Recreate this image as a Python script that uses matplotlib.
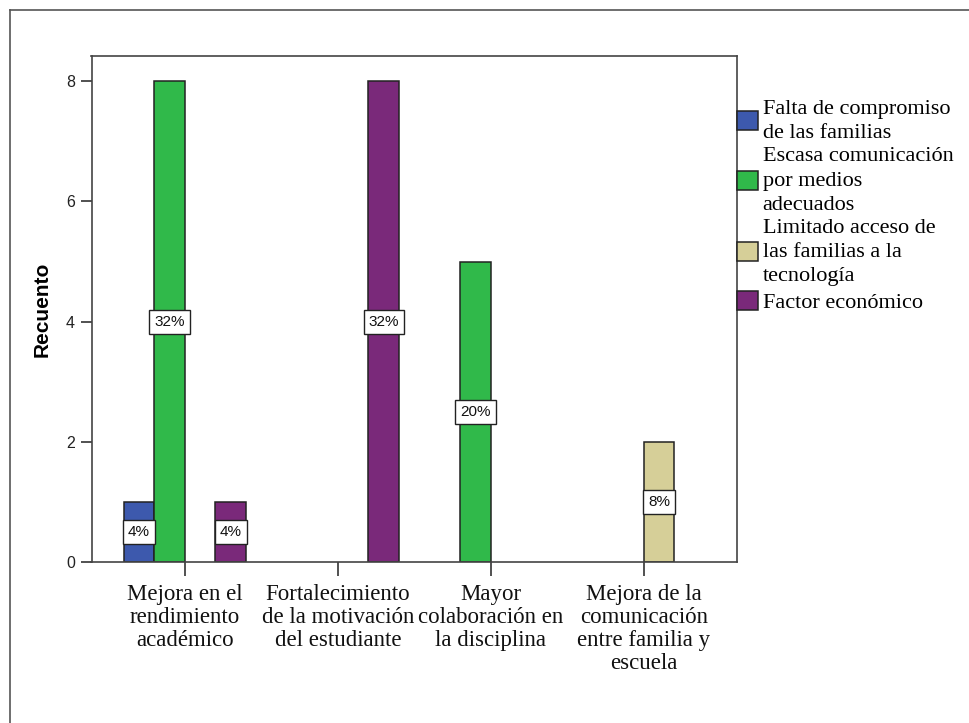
import matplotlib

matplotlib.use("Agg")
import matplotlib.pyplot as plt
import numpy as np
from matplotlib.lines import Line2D
from matplotlib.patches import Patch

# Data (counts per category and series)
categories = [
    "Mejora en el\nrendimiento\nacadémico",
    "Fortalecimiento\nde la motivación\ndel estudiante",
    "Mayor\ncolaboración en\nla disciplina",
    "Mejora de la\ncomunicación\nentre familia y\nescuela",
]
series_names = [
    "Falta de compromiso\nde las familias",
    "Escasa comunicación\npor medios\nadecuados",
    "Limitado acceso de\nlas familias a la\ntecnología",
    "Factor económico",
]
falta_compromiso = [1, 0, 0, 0]
escasa_comunicacion = [8, 0, 5, 0]
limitado_acceso = [0, 0, 0, 2]
factor_economico = [1, 8, 0, 0]
y_ticks = [0, 2, 4, 6, 8]

series_values = [falta_compromiso, escasa_comunicacion, limitado_acceso, factor_economico]
colors = ["#3d59ad", "#30b94a", "#d6cf98", "#7a297a"]
total = sum(sum(s) for s in series_values)

W, H, DPI = 969, 723, 100
fig = plt.figure(figsize=(W / DPI, H / DPI), dpi=DPI)
fig.patch.set_facecolor("white")

# outer frame (only left and top edges visible)
fig.add_artist(Line2D([10 / W, 10 / W], [0, 1 - 10 / H], transform=fig.transFigure,
                      color="#555555", lw=1.2))
fig.add_artist(Line2D([10 / W, 1], [1 - 10 / H, 1 - 10 / H], transform=fig.transFigure,
                      color="#555555", lw=1.2))

ax = fig.add_axes([91.5 / W, 161 / H, (737 - 91.5) / W, (562 - 56) / H])

x = np.arange(len(categories))
width = 0.2
offsets = (np.arange(len(series_values)) - 1.5) * width

handles = []
for k, (name, vals, col) in enumerate(zip(series_names, series_values, colors)):
    bars = ax.bar(x + offsets[k], vals, width, color=col, edgecolor="#222222",
                  linewidth=1.1, zorder=2)
    # empty bars leave no outline on the baseline
    for b, v in zip(bars, vals):
        if v == 0:
            b.set_visible(False)
    labels = [f"{round(v / total * 100)}%" if v > 0 else "" for v in vals]
    ax.bar_label(bars, labels=labels, label_type="center", fontsize=11,
                 family="Liberation Sans", color="#111111",
                 bbox=dict(boxstyle="square,pad=0.32", fc="white", ec="#222222", lw=1.0))
    handles.append(Patch(facecolor=col, edgecolor="#222222", linewidth=1.1, label=name))

ax.set_xlim(-0.61, 3.61)
ax.set_ylim(0, 8.42)
ax.set_yticks(y_ticks)
ax.set_yticklabels([str(t) for t in y_ticks], family="Liberation Sans", fontsize=11.5,
                   color="#222222")
ax.set_xticks(x)
ax.set_xticklabels(categories, family="Liberation Serif", fontsize=16.5, linespacing=1.12,
                   color="#111111")
ax.tick_params(axis="y", length=8, width=1.2, color="#333333", pad=4)
ax.tick_params(axis="x", length=10, width=1.2, color="#333333", pad=6)
ax.set_ylabel("Recuento", family="Liberation Sans", fontsize=15, fontweight="bold",
              labelpad=10)
for side in ["left", "right", "top", "bottom"]:
    ax.spines[side].set_color("#444444")
    ax.spines[side].set_linewidth(1.2)

leg = ax.legend(handles=handles, loc="upper left", bbox_to_anchor=(737 / W, 1 - 100 / H),
                bbox_transform=fig.transFigure, frameon=False, borderpad=0,
                borderaxespad=0, handlelength=0.95, handleheight=0.95,
                handletextpad=0.2, labelspacing=0.2,
                prop={"family": "Liberation Serif", "size": 16})
for txt in leg.get_texts():
    txt.set_linespacing(1.36)

fig.savefig("out.png", dpi=DPI, facecolor="white")
